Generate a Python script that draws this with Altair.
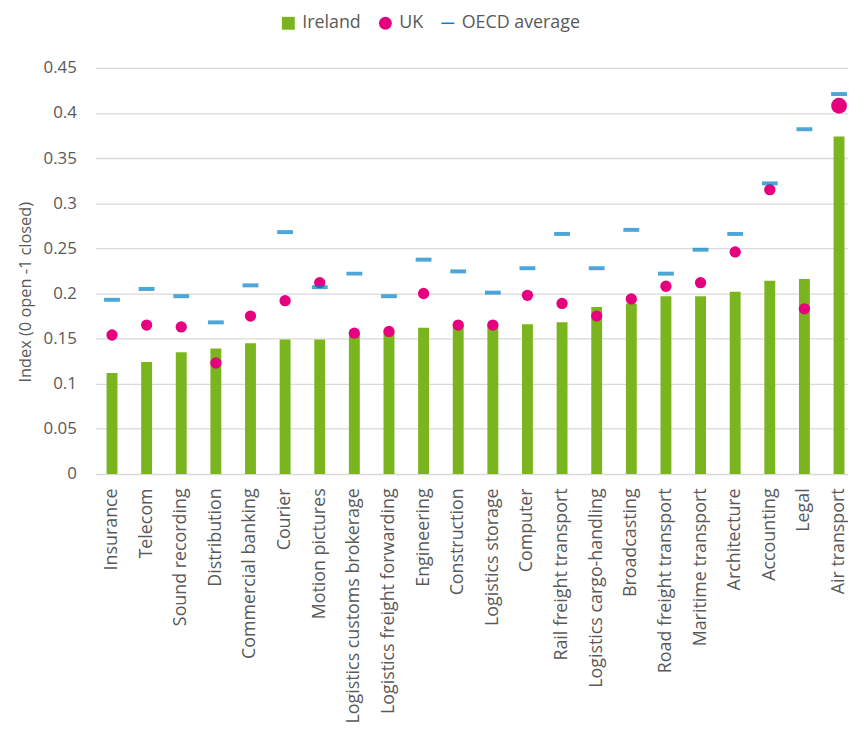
import altair as alt
import pandas as pd

sectors = [
    "Insurance", "Telecom", "Sound recording", "Distribution", "Commercial banking",
    "Courier", "Motion pictures", "Logistics customs brokerage",
    "Logistics freight forwarding", "Engineering", "Construction", "Logistics storage",
    "Computer", "Rail freight transport", "Logistics cargo-handling", "Broadcasting",
    "Road freight transport", "Maritime transport", "Architecture", "Accounting",
    "Legal", "Air transport",
]
ireland = [0.112, 0.124, 0.135, 0.139, 0.145, 0.149, 0.149, 0.155, 0.157, 0.162,
           0.165, 0.166, 0.166, 0.168, 0.185, 0.189, 0.197, 0.197, 0.202, 0.214,
           0.216, 0.374]
uk = [0.154, 0.165, 0.163, 0.123, 0.175, 0.192, 0.212, 0.156, 0.158, 0.200,
      0.165, 0.165, 0.198, 0.189, 0.175, 0.194, 0.208, 0.212, 0.246, 0.315,
      0.183, 0.408]
oecd = [0.193, 0.205, 0.197, 0.168, 0.209, 0.268, 0.207, 0.222, 0.197, 0.2375,
        0.2245, 0.201, 0.228, 0.266, 0.228, 0.2705, 0.222, 0.2485, 0.266, 0.322,
        0.382, 0.421]
series = ["Ireland", "UK", "OECD average"]
y_ticks = [0, 0.05, 0.1, 0.15, 0.2, 0.25, 0.3, 0.35, 0.4, 0.45]

df = pd.DataFrame({"sector": sectors, "ireland": ireland, "uk": uk, "oecd": oecd})

GREEN = "#7AB51F"
PINK = "#E6007E"
BLUE = "#0082C8"
TEXT = "#595959"
FONT = "Open Sans"

color_scale = alt.Scale(domain=series, range=[GREEN, PINK, BLUE])

x_scale = alt.Scale(paddingInner=0.6853, paddingOuter=0.2153, align=0.764)
x_axis = alt.Axis(title=None, labelAngle=-90, ticks=False, domain=False,
                  labelPadding=14, labelAlign="right", labelBaseline="middle",
                  labelLimit=0, labelFontSize=18)

y_axis = alt.Axis(
    title="Index (0 open -1 closed)", values=y_ticks, format=".2~f",
    ticks=False, domain=False, labelPadding=19, labelFontSize=17,
    titleFontSize=16.5, titleColor=TEXT, titleFont=FONT, titleY=226,
    titleFontWeight="normal", titlePadding=10, gridColor="#D9D9D9", gridWidth=1.3,
)

legend = alt.Legend(
    title=None, orient="none", legendX=186, legendY=-54, direction="horizontal",
    columns=3, labelFontSize=18, labelColor=TEXT, labelFont=FONT, symbolSize=169,
    columnPadding=15, labelOffset=5, symbolStrokeWidth=0, labelLimit=0,
    symbolType=alt.ExprRef(expr="datum.value == 'UK' ? 'circle' : datum.value == 'Ireland' ? 'square' : 'M-1,-0.12H1V0.12H-1Z'"),
)

base = alt.Chart(df)

bars = base.mark_bar().transform_calculate(series="'Ireland'").encode(
    x=alt.X("sector:N", sort=sectors, scale=x_scale, axis=x_axis),
    y=alt.Y("ireland:Q", scale=alt.Scale(domain=[0, 0.45], nice=False), axis=y_axis),
    color=alt.Color("series:N", scale=color_scale, legend=legend),
)

dots = base.mark_circle(opacity=1).transform_calculate(series="'UK'").encode(
    x=alt.X("sector:N", sort=sectors, axis=x_axis),
    y=alt.Y("uk:Q", axis=y_axis),
    color=alt.Color("series:N", legend=None),
    size=alt.condition(alt.datum.sector == "Air transport", alt.value(256), alt.value(130)),
)

ticks = base.mark_tick(thickness=4, size=16).transform_calculate(series="'OECD average'").encode(
    x=alt.X("sector:N", sort=sectors, axis=x_axis),
    y=alt.Y("oecd:Q", axis=y_axis),
    color=alt.Color("series:N", legend=None),
)

chart = alt.layer(bars, dots, ticks).properties(
    width=760, height=410,
    autosize=alt.AutoSizeParams(type="none"),
    padding={"left": 88, "top": 57, "right": 0, "bottom": 254},
).configure_view(stroke=None).configure_axis(
    labelColor=TEXT, labelFont=FONT
)

chart.save("out.html", embed_options={"renderer": "svg", "actions": False})
